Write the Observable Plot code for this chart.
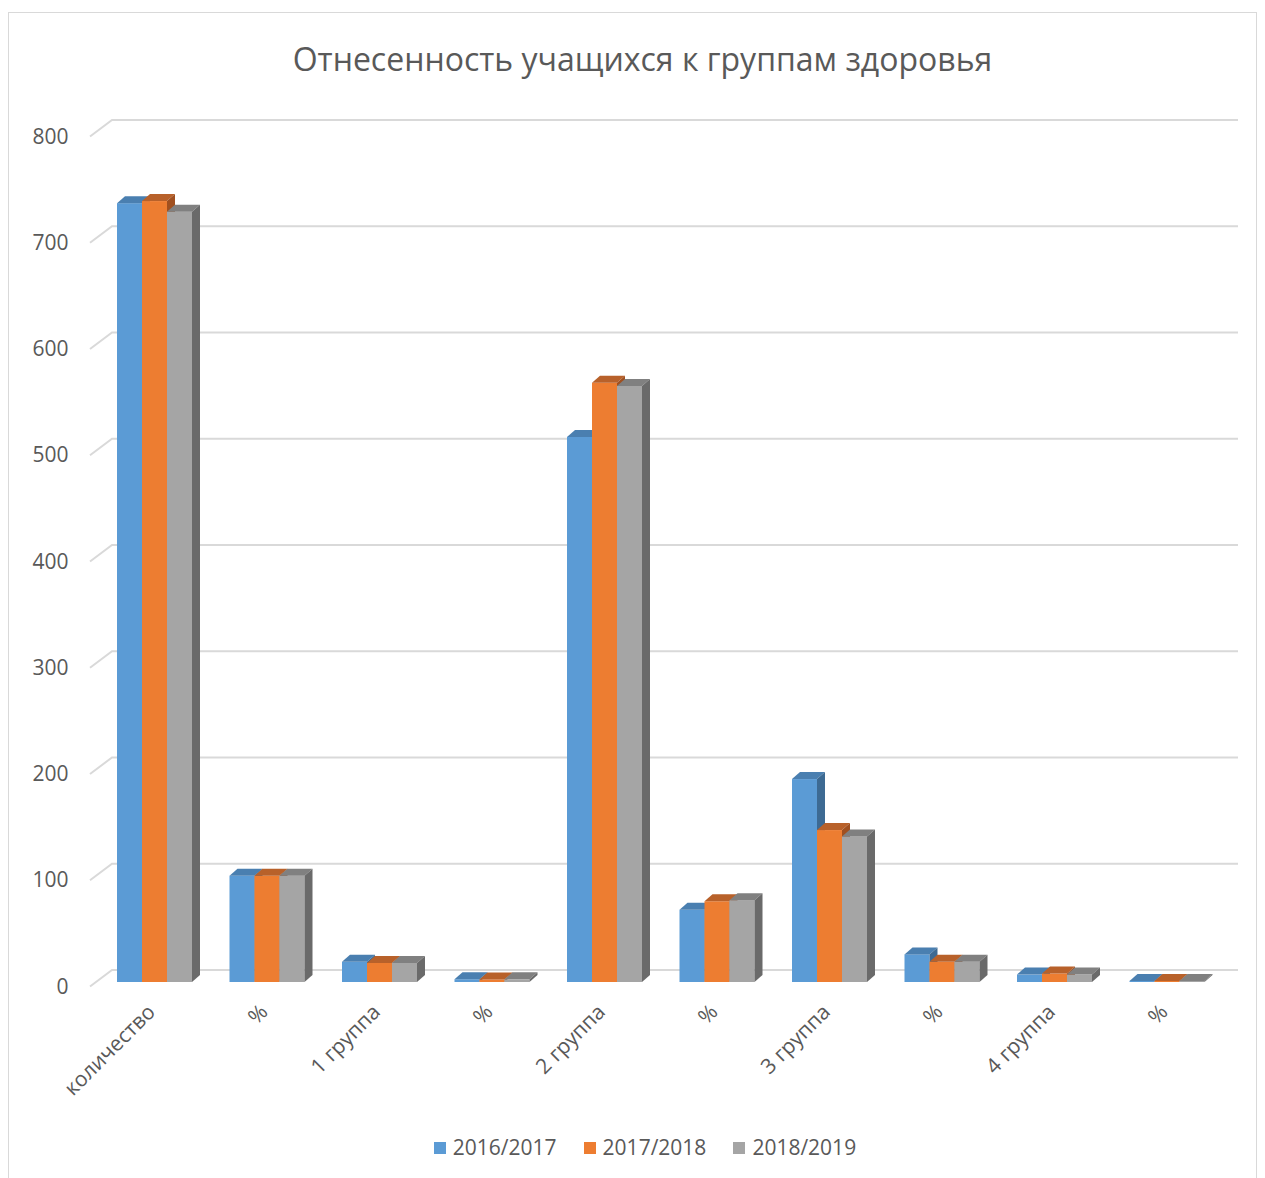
<!DOCTYPE html>
<html><head><meta charset="utf-8">
<script src="https://cdn.jsdelivr.net/npm/d3@7"></script>
<script src="https://cdn.jsdelivr.net/npm/@observablehq/plot@0.6"></script>
<style>
body{margin:0;background:#fff;font-family:"Open Sans",sans-serif;}
#frame{position:absolute;left:8px;top:12px;width:1249px;height:1190px;border:1.5px solid #d9d9d9;box-sizing:border-box;}
#title{position:absolute;left:0;width:1285px;top:37px;text-align:center;font-size:32px;line-height:44px;color:#595959;}
#chart{position:absolute;left:0;top:0;}
#legend{position:absolute;left:0;width:1290px;top:1133px;display:flex;justify-content:center;gap:27px;font-size:21px;line-height:29px;color:#595959;}
#legend .it{display:flex;align-items:center;gap:7px;}
#legend .sw{width:12px;height:12px;display:inline-block;}
</style></head>
<body>
<div id="frame"></div>
<div id="chart"></div>
<div id="title">Отнесенность учащихся к группам здоровья</div>
<div id="legend"></div>
<script>
const categories = ["количество","%","1 группа","%","2 группа","%","3 группа","%","4 группа","%"];
const series = ["2016/2017","2017/2018","2018/2019"];
const values2016 = [733,100,19,2.6,513,68,191,26,7,1];
const values2017 = [735,100,18,2.4,564,76,143,19,8,1];
const values2018 = [725,100,18,2.5,561,77,137,19,7,1];
const yTicks = [0,100,200,300,400,500,600,700,800];
const colors = [
  {front:"#5b9bd5", top:"#4a7fb0", side:"#3d6a93"},
  {front:"#ed7d31", top:"#b8612a", side:"#a05020"},
  {front:"#a5a5a5", top:"#808080", side:"#6a6a6a"}
];
const seriesValues = [values2016, values2017, values2018];

const W = 1265, H = 1100;
const mL = 98, mR = 42, mT = 132, mB = 118;
const band = (W - mL - mR) / categories.length;
const groupOffset = 19, barW = 25;
const DX = 8, DY = 7;

const rows = categories.map((c, i) => ({key: i, label: c,
  v: seriesValues.map(a => a[i])}));

function bar3d(s) {
  const col = colors[s];
  return Plot.barY(rows, {
    x: "key", y: d => d.v[s], fill: col.front,
    insetLeft: groupOffset + barW * s,
    insetRight: band - groupOffset - barW * (s + 1),
    render(index, scales, values, dims, ctx, next) {
      const g = next(index, scales, values, dims, ctx);
      const ns = "http://www.w3.org/2000/svg";
      for (const r of Array.from(g.querySelectorAll("rect"))) {
        const x = +r.getAttribute("x"), y = +r.getAttribute("y");
        const w = +r.getAttribute("width"), h = +r.getAttribute("height");
        const top = document.createElementNS(ns, "polygon");
        top.setAttribute("points", `${x},${y} ${x+DX},${y-DY} ${x+w+DX},${y-DY} ${x+w},${y}`);
        top.setAttribute("fill", col.top);
        const side = document.createElementNS(ns, "polygon");
        side.setAttribute("points", `${x+w},${y} ${x+w+DX},${y-DY} ${x+w+DX},${y+h-DY} ${x+w},${y+h}`);
        side.setAttribute("fill", col.side);
        r.parentNode.appendChild(top);
        r.parentNode.appendChild(side);
      }
      return g;
    }
  });
}

const grid = Plot.ruleY(yTicks, {
  y: d => d,
  render(index, scales, values, dims) {
    const g = d3.create("svg:g");
    const x0 = dims.marginLeft, x1 = dims.width - dims.marginRight;
    for (const i of index) {
      const y = values.y[i];
      g.append("path")
        .attr("d", `M${x0 - 8},${y + 4.5}L${x0 + 14},${y - 12}H${x1 + 15}`)
        .attr("fill", "none").attr("stroke", "#d9d9d9").attr("stroke-width", 2);
    }
    return g.node();
  }
});

const chart = Plot.plot({
  width: W, height: H,
  marginLeft: mL, marginRight: mR, marginTop: mT, marginBottom: mB,
  style: {fontFamily: "Open Sans, sans-serif", fontSize: "21px", color: "#595959", background: "transparent"},
  x: {type: "band", domain: d3.range(categories.length), padding: 0, round: false},
  y: {domain: [0, 800]},
  marks: [
    grid,
    bar3d(0), bar3d(1), bar3d(2),
    Plot.axisY({ticks: yTicks, tickSize: 0, tickPadding: 30, dy: 4.5, fontSize: 21, label: null}),
    Plot.axisX({tickFormat: i => categories[i], tickRotate: -45, tickSize: 0, tickPadding: 26, dx: -3, fontSize: 21, label: null})
  ]
});
document.getElementById("chart").appendChild(chart);

const legend = d3.select("#legend");
series.forEach((s, i) => {
  const it = legend.append("div").attr("class", "it");
  it.append("span").attr("class", "sw").style("background", colors[i].front);
  it.append("span").text(s);
});
</script>
</body></html>
